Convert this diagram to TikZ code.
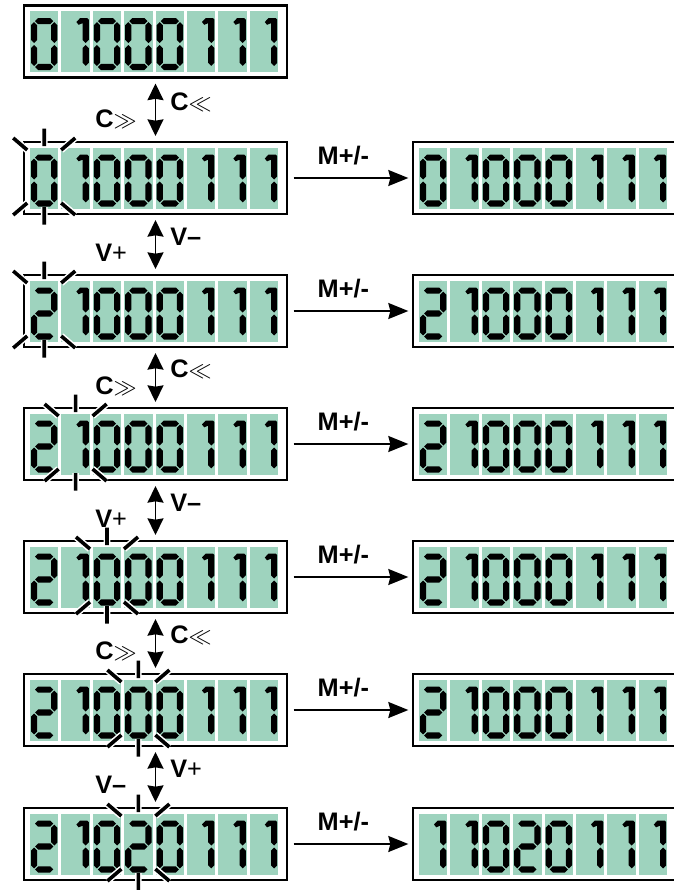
\documentclass[tikz,border=0pt]{standalone}
\usepackage{fontspec}
\setmainfont{Liberation Sans}
\usetikzlibrary{arrows.meta}

\definecolor{lcdgreen}{RGB}{158,211,190}

% seven segments of one digit, cell coordinates in px (y downwards)
\newcommand{\segA}{\fill (5.1,10.1) -- (8.2,7) -- (20.2,7) -- (23.3,10.1) -- (20.2,13.2) -- (8.2,13.2) -- cycle;}
\newcommand{\segG}{\fill (5.1,33) -- (8.2,29.9) -- (20.2,29.9) -- (23.3,33) -- (20.2,36.1) -- (8.2,36.1) -- cycle;}
\newcommand{\segD}{\fill (5.1,55.9) -- (8.2,52.8) -- (20.2,52.8) -- (23.3,55.9) -- (20.2,59) -- (8.2,59) -- cycle;}
\newcommand{\segF}{\fill (4.1,11.1) -- (7.2,14.2) -- (7.2,28.9) -- (4.1,32) -- (1,28.9) -- (1,14.2) -- cycle;}
\newcommand{\segE}{\fill (4.1,34) -- (7.2,37.1) -- (7.2,51.8) -- (4.1,54.9) -- (1,51.8) -- (1,37.1) -- cycle;}
\newcommand{\segB}{\fill (24.3,11.1) -- (27.4,14.2) -- (27.4,28.9) -- (24.3,32) -- (21.2,28.9) -- (21.2,14.2) -- cycle;}
\newcommand{\segC}{\fill (24.3,34) -- (27.4,37.1) -- (27.4,51.8) -- (24.3,54.9) -- (21.2,51.8) -- (21.2,37.1) -- cycle;}
% upper stroke of a one, with its flag
\newcommand{\segOne}{\fill (15,11) -- (18.8,7) -- (25.8,7) -- (27.4,8.6) -- (27.4,28.9) -- (24.3,32) -- (21.2,28.9) -- (21.2,12.2) -- (17.2,13.8) -- cycle;}

% one green cell with a digit (0, 1 or 2)
\newcommand{\lcddigit}[3]{%
  \begin{scope}[shift={(#1,#2)}]
    \fill[lcdgreen] (0,0) rectangle (28.4,61);
    \ifcase#3\relax \segA\segB\segC\segD\segE\segF
    \or \segOne\segC
    \or \segA\segB\segG\segE\segD
    \fi
  \end{scope}}

% rays round the blinking digit
\newcommand{\blinkmarks}[2]{%
  \begin{scope}[shift={(#1,#2)}]
    \draw[blink] (0,-30.5) -- (0,-48) (0,30.5) -- (0,48)
      (-17,-26.5) -- (-31,-38.5) (17,-26.5) -- (31,-38.5)
      (-17,26.5) -- (-31,38.5) (17,26.5) -- (31,38.5);
  \end{scope}}

\begin{document}
\begin{tikzpicture}[x=0.75pt, y=-0.75pt,
  lcd/.style={draw, line width=2pt, minimum width=197.25pt, minimum height=54pt, inner sep=0pt, outer sep=0pt},
  blink/.style={line width=2.7pt, preaction={draw=white, line width=5pt}},
  updown/.style={{Stealth[length=12.5pt,width=12pt,inset=1pt]}-{Stealth[length=12.5pt,width=12pt,inset=1pt]}, line width=1pt, shorten <=4.5pt, shorten >=4.5pt},
  toright/.style={-{Stealth[length=15pt,width=12pt,inset=1.5pt]}, line width=1.3pt, shorten <=5pt, shorten >=3.5pt},
  lbl/.style={font=\fontsize{19}{22}\selectfont\bfseries, inner sep=0pt}]
\useasboundingbox (0,0) rectangle (674,890);

% display frames
\foreach \name/\xc/\yc in {L1/155.5/41.5, L2/155.5/178, L3/155.5/311, L4/155.5/444, L5/155.5/577, L6/155.5/710, L7/155.5/844,
    R2/544.5/178, R3/544.5/311, R4/544.5/444, R5/544.5/577, R6/544.5/710, R7/544.5/844}
  \node[lcd] (\name) at (\xc,\yc) {};

% cells and digits
\foreach \xc/\yc/\digs in {155.5/41.5/{0,1,0,0,0,1,1,1}, 155.5/178/{0,1,0,0,0,1,1,1}, 155.5/311/{2,1,0,0,0,1,1,1},
    155.5/444/{2,1,0,0,0,1,1,1}, 155.5/577/{2,1,0,0,0,1,1,1}, 155.5/710/{2,1,0,0,0,1,1,1}, 155.5/844/{2,1,0,2,0,1,1,1},
    544.5/178/{0,1,0,0,0,1,1,1}, 544.5/311/{2,1,0,0,0,1,1,1}, 544.5/444/{2,1,0,0,0,1,1,1},
    544.5/577/{2,1,0,0,0,1,1,1}, 544.5/710/{2,1,0,0,0,1,1,1}, 544.5/844/{1,1,0,2,0,1,1,1}}
  \foreach \dg [count=\i from 0] in \digs
    \lcddigit{\xc-125.5+\i*31.4}{\yc-30.5}{\dg};

% blinking position
\foreach \yc/\i in {178/0, 311/0, 444/1, 577/2, 710/3, 844/3}
  \blinkmarks{44.2+31.4*\i}{\yc-1.5};

% cursor and value keys
\foreach \a/\b in {L1/L2, L2/L3, L3/L4, L4/L5, L5/L6, L6/L7}
  \draw[updown] (\a) -- (\b);
\node[lbl, anchor=west] (k1r) at (170,102) {C$\ll$};
\node[lbl, anchor=west] (k1l) at (95,119) {C$\gg$};
\node[lbl, anchor=west] (k2r) at (170,236.5) {V–};
\node[lbl, anchor=west] (k2l) at (95,252.5) {V\mdseries+};
\node[lbl, anchor=west] (k3r) at (170,369.5) {C$\ll$};
\node[lbl, anchor=west] (k3l) at (95,386.5) {C$\gg$};
\node[lbl, anchor=west] (k4r) at (170,502.5) {V–};
\node[lbl, anchor=west] (k4l) at (95,518.5) {V\mdseries+};
\node[lbl, anchor=west] (k5r) at (170,635.5) {C$\ll$};
\node[lbl, anchor=west] (k5l) at (95,651.5) {C$\gg$};
\node[lbl, anchor=west] (k6r) at (170,769) {V\mdseries+};
\node[lbl, anchor=west] (k6l) at (95,785) {V–};

% store key
\foreach \r in {2,...,7}
  \draw[toright] (L\r) -- node[lbl, above=9pt, xshift=-5pt] (m\r) {M+/-} (R\r);

\end{tikzpicture}
\end{document}
